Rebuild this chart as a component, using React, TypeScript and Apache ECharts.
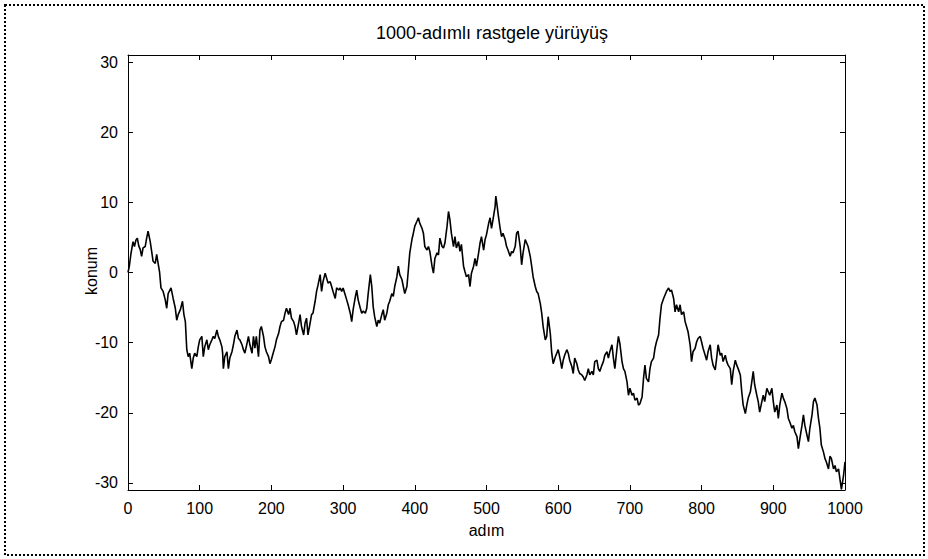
import React, { useEffect, useRef } from "react";
import * as echarts from "echarts";

const titleText = "1000-adımlı rastgele yürüyüş";
const xName = "adım";
const yName = "konum";
const yTicks = [-30, -20, -10, 0, 10, 20, 30];

const steps = [
  0, 2, 4, 7, 9, 11, 13, 15, 17, 19, 21, 24, 26, 28, 31, 33, 35, 38, 40, 42, 44, 46, 49, 52, 54, 56, 60, 63, 66, 68, 70, 73, 76, 78,
  80, 82, 84, 86, 89, 91, 93, 96, 98, 100, 103, 105, 107, 110, 112, 114, 117, 119, 121, 124, 126, 128, 131, 132, 133, 135, 138, 140, 142, 145, 147, 149,
  152, 154, 156, 159, 161, 163, 166, 168, 170, 173, 175, 177, 179, 182, 184, 186, 189, 191, 193, 196, 198, 200, 203, 205, 207, 210, 212, 214, 217, 219,
  221, 224, 226, 228, 231, 233, 235, 238, 240, 242, 245, 247, 249, 251, 254, 256, 258, 261, 263, 265, 268, 270, 272, 275, 277, 279, 282, 284, 286, 289,
  291, 294, 296, 298, 300, 303, 305, 307, 310, 312, 314, 317, 319, 321, 324, 326, 328, 331, 333, 335, 338, 340, 342, 344, 347, 349, 351, 354, 356, 358,
  361, 363, 365, 368, 370, 372, 375, 377, 379, 382, 384, 386, 389, 391, 393, 396, 398, 400, 403, 405, 407, 410, 412, 414, 417, 419, 421, 424, 426, 428,
  431, 433, 435, 438, 440, 442, 445, 447, 449, 451, 454, 456, 458, 461, 463, 465, 468, 470, 472, 475, 477, 479, 482, 484, 486, 489, 491, 493, 496, 498,
  500, 503, 505, 507, 509, 512, 513, 515, 516, 519, 521, 523, 526, 528, 530, 533, 535, 537, 540, 542, 544, 547, 549, 551, 554, 556, 558, 561, 563, 565,
  568, 570, 572, 575, 577, 579, 582, 584, 586, 589, 591, 593, 596, 598, 600, 603, 605, 607, 609, 612, 614, 616, 619, 621, 623, 626, 628, 630, 633, 635,
  637, 640, 642, 644, 647, 649, 651, 654, 656, 658, 661, 663, 665, 668, 670, 672, 675, 677, 679, 682, 684, 686, 689, 691, 693, 696, 698, 700, 703, 705,
  707, 710, 712, 714, 717, 719, 721, 723, 726, 728, 730, 733, 735, 737, 740, 742, 744, 747, 749, 751, 754, 756, 758, 761, 763, 765, 768, 770, 772, 775,
  777, 779, 781, 784, 786, 788, 791, 793, 795, 798, 800, 802, 805, 807, 809, 812, 814, 816, 819, 821, 823, 826, 828, 830, 833, 835, 837, 840, 842, 844,
  847, 849, 851, 854, 856, 858, 861, 863, 865, 868, 870, 872, 874, 877, 879, 881, 884, 886, 888, 891, 893, 895, 898, 900, 902, 905, 907, 909, 912, 914,
  916, 919, 921, 923, 926, 928, 930, 933, 935, 937, 940, 942, 944, 947, 949, 951, 954, 956, 958, 961, 963, 965, 967, 970, 972, 974, 977, 979, 981, 984,
  986, 988, 991, 993, 995, 998, 1000,
];

const konum = [
  0, 1, 2.6, 4.4, 3.7, 4.6, 4.9, 3.8, 3.3, 2.3, 3.5, 3.7, 4.9, 5.9, 4.4, 3, 1.6, 1.3, 2.6, 1.3, 0.1, -2.2, -2.7, -3.9, -5.1, -3, -2.2, -3.7, -5.1, -6.8, -6, -5.3, -4.1, -6,
  -7, -11, -12, -11.5, -13.7, -12.2, -11.5, -12, -10.6, -9.6, -9.1, -12, -10.6, -9.6, -11, -10.3, -9.6, -9.1, -9.4, -8.2, -9.1, -9.6, -10.6, -11.5, -13.7, -12, -11.3, -13.7, -12.2, -11.3, -10.3, -9.1,
  -8.2, -9.4, -9.6, -10.3, -11, -11.5, -10.1, -9.1, -10.3, -11.5, -9.1, -10.8, -9.1, -12, -8.2, -7.7, -9.1, -10.6, -11.3, -12, -13, -12.4, -11.3, -10.6, -9.6, -8.7, -7.7, -7, -6.8, -5.8,
  -5.1, -6, -5.1, -6.5, -7, -7.7, -8.9, -7.2, -6, -7.7, -8.9, -7.2, -6.5, -8.9, -7.2, -6, -5.8, -4.1, -2.7, -1.8, -0.3, -2.7, -1.3, -0.1, -0.8, -1.5, -1.3, -2, -2.7, -3.7,
  -2.2, -2.5, -2.2, -2.7, -2.2, -3.2, -3.9, -4.6, -5.8, -7, -5.3, -3.5, -2.5, -3.9, -5.1, -5.8, -5.5, -5.8, -5.1, -3, -0.3, -2, -4.9, -6.3, -7.7, -6.8, -7.2, -6, -5.3, -6.8,
  -5.8, -4.6, -4.1, -3, -3.4, -2, -0.6, 0.9, -0.3, -1, -2, -3, -2, 0.4, 2.8, 4.7, 5.6, 6.6, 7.3, 7.8, 7, 6.3, 5.6, 3.7, 3.2, 3.7, 3, 0.9, -0.1, 2,
  2.8, 2.5, 4.9, 3.7, 3.5, 4.2, 6.6, 8.7, 7.5, 5.6, 3.7, 5.1, 3.5, 4.4, 3, 4, 0.9, 0.1, -0.6, -0.3, -2, -0.1, 0.9, 2, 0.9, 2.8, 4.2, 5.1, 3.2, 4.7,
  5.4, 7, 7.8, 6.3, 7.5, 9.4, 10.9, 9.4, 8.5, 6.3, 5.1, 5.6, 4.7, 3.7, 3.2, 2.3, 3, 2.8, 3.7, 5.6, 5.9, 3.7, 1.1, 2.8, 4.7, 4.2, 3.7, 2.3, 0.9, -0.6,
  -2, -2.7, -3, -4.4, -5.8, -7.7, -9.6, -9.1, -6.3, -8.7, -11.5, -13, -12, -11.5, -11, -12.5, -13.7, -12.5, -11.8, -11, -11.5, -12.5, -13.4, -14.4, -12.2, -13, -13.9, -14.4, -14.6, -14.9,
  -15.4, -14.6, -13.7, -14.6, -14.1, -14.6, -12.7, -12.5, -13.7, -14.1, -13.2, -12.7, -11.8, -11.3, -12.2, -11.3, -10.3, -12.2, -13.7, -10.8, -9.1, -10.1, -12.7, -13.7, -14.1, -15.6, -17.5, -16.5, -17.5, -17.2,
  -18.2, -17.9, -18.9, -18.7, -17.7, -15.1, -13.2, -15.1, -15.6, -13.7, -12.7, -12.2, -10.8, -9.9, -8.9, -6.5, -4.6, -3.7, -3.2, -2.7, -2.2, -2.7, -2.5, -3.7, -5.6, -4.6, -5.6, -4.6, -6, -5.6,
  -7, -7.7, -8.4, -10.3, -12.7, -11.3, -10.8, -9.9, -9.4, -9.1, -9.9, -10.8, -11.8, -12.5, -11.3, -10.3, -12.2, -13.2, -13.9, -12.2, -10.3, -11.8, -11.5, -12.7, -11.8, -12.7, -13.2, -13.7, -16, -14.1,
  -12.5, -13.2, -13.7, -14.6, -17, -18.9, -20.1, -18.9, -17.9, -17, -15.6, -14.1, -16, -17.5, -18.4, -19.9, -18.4, -17.5, -18.4, -16.5, -17, -17.5, -16.5, -18.4, -19.9, -18.9, -20.8, -18.9, -17.2, -17.9,
  -18.4, -19.4, -20.8, -21.3, -22.2, -21.8, -22.7, -23.4, -25.1, -23.7, -21.8, -20.3, -21.8, -23.2, -24.1, -22.2, -20.3, -18.4, -17.9, -18.9, -20.8, -22.2, -24.6, -25.6, -26.5, -27, -28, -26.2, -26.5, -28,
  -27.5, -28.4, -28, -29.5, -30.9, -28.9, -27,
];

const FONT = '"Liberation Sans", Arial, Helvetica, sans-serif';

export default function App() {
  const ref = useRef<HTMLDivElement | null>(null);

  useEffect(() => {
    document.body.style.margin = "0";
    if (!ref.current) return;
    const chart = echarts.init(ref.current, null, { renderer: "svg" });
    const data = steps.map((s, i) => [s, konum[i]]);
    const axisCommon = {
      axisLine: { show: true, onZero: false, lineStyle: { color: "#000", width: 1 } },
      splitLine: { show: false },
    };
    const tickStyle = { show: true, inside: true, length: 5, lineStyle: { color: "#000" } };
    chart.setOption({
      animation: false,
      backgroundColor: "#fff",
      title: {
        text: titleText,
        left: 487,
        top: 19,
        textAlign: "center",
        textStyle: { fontFamily: FONT, fontSize: 18, fontWeight: "normal", color: "#000" },
      },
      grid: { left: 128, top: 55, width: 717, height: 435, show: false },
      xAxis: [
        {
          type: "value",
          min: 0,
          max: 1000,
          interval: 100,
          ...axisCommon,
          axisTick: tickStyle,
          axisLabel: {
            color: "#000",
            fontFamily: FONT,
            fontSize: 16,
            margin: 10,
            formatter: (v: number) => String(v),
          },
          name: xName,
          nameLocation: "middle",
          nameGap: 32,
          nameTextStyle: { fontFamily: FONT, fontSize: 16, color: "#000" },
        },
        {
          type: "value",
          position: "top",
          min: 0,
          max: 1000,
          interval: 100,
          ...axisCommon,
          axisTick: tickStyle,
          axisLabel: { show: false },
        },
      ],
      yAxis: [
        {
          type: "value",
          min: -31,
          max: 31,
          ...axisCommon,
          axisTick: { ...tickStyle, customValues: yTicks },
          axisLabel: {
            color: "#000",
            fontFamily: FONT,
            fontSize: 16,
            margin: 10,
            customValues: yTicks,
            formatter: (v: number) => String(v),
          },
        },
        {
          type: "value",
          position: "right",
          min: -31,
          max: 31,
          ...axisCommon,
          axisTick: { ...tickStyle, customValues: yTicks },
          axisLabel: { show: false },
        },
      ],
      series: [
        {
          type: "line",
          data,
          xAxisIndex: 0,
          yAxisIndex: 0,
          showSymbol: false,
          symbol: "none",
          lineStyle: { color: "#000", width: 1.6 },
        },
      ],
      graphic: [
        {
          type: "text",
          x: 91,
          y: 271,
          rotation: Math.PI / 2,
          style: {
            text: yName,
            fill: "#000",
            font: `16px ${FONT}`,
            textAlign: "center",
            textVerticalAlign: "middle",
          },
          silent: true,
        },
        {
          type: "rect",
          shape: { x: 5, y: 5, width: 919, height: 550 },
          style: { fill: null, stroke: "#000", lineWidth: 2, lineDash: [2, 2] },
          silent: true,
        },
      ],
    });
    return () => chart.dispose();
  }, []);

  return <div ref={ref} style={{ width: 928, height: 559 }} />;
}
